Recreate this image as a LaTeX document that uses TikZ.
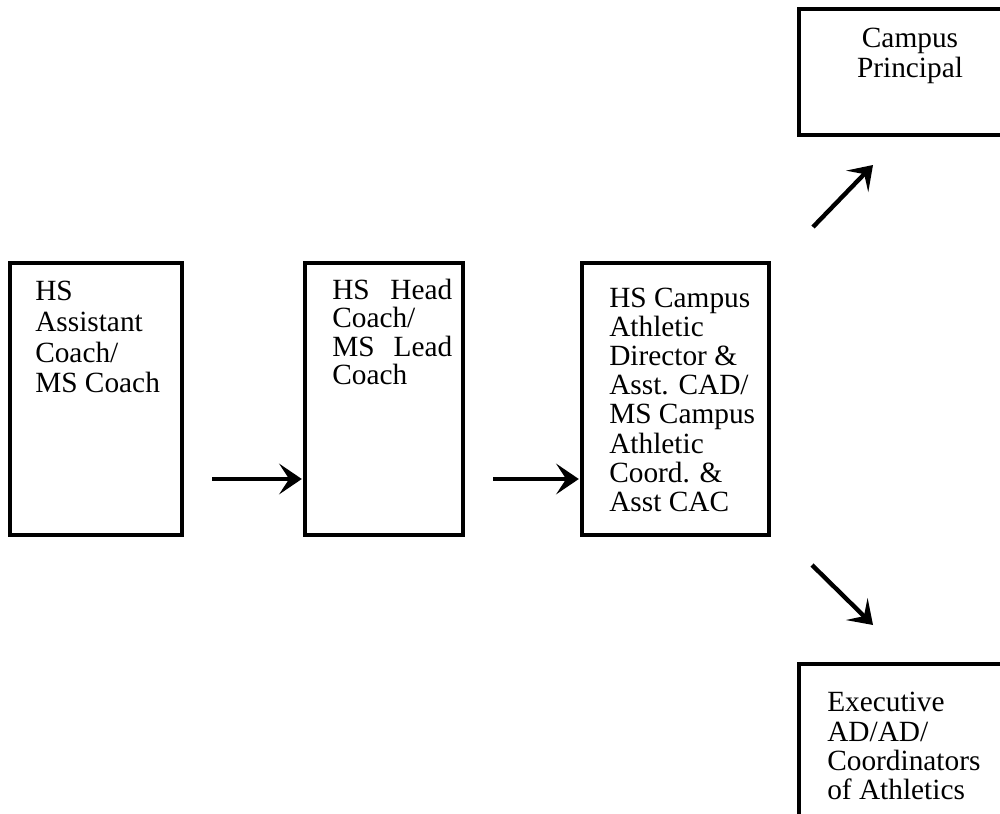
\documentclass[tikz,border=0pt]{standalone}
\usepackage{fontspec}
\setmainfont{Liberation Serif}
\usetikzlibrary{arrows.meta}
\tikzset{
  box/.style={draw=black, line width=2.4pt, rectangle, inner sep=0pt, fill=none},
  txt/.style={inner sep=0pt, align=left},
  arr/.style={line width=3.3pt, -{Stealth[length=17pt, width=23pt, inset=7.5pt]}}
}
\newcommand{\fsz}[1]{\fontsize{22}{#1}\selectfont}
\begin{document}
\begin{tikzpicture}[x=0.75pt, y=-0.75pt]
\clip (0,0) rectangle (1000,814);
\fill[white] (0,0) rectangle (1000,814);
% boxes
\node[box, minimum width=129pt, minimum height=204pt] (b1) at (96,399) {};
\node[box, minimum width=118.5pt, minimum height=204pt] (b2) at (384,399) {};
\node[box, minimum width=140.25pt, minimum height=204pt] (b3) at (675.5,399) {};
\node[box, minimum width=180.75pt, minimum height=94.5pt] (b4) at (919.5,72) {};
\node[box, minimum width=180.75pt, minimum height=147pt] (b5) at (919.5,762) {};
% texts
\node[txt, anchor=north west, font=\fsz{23}] (t1) at (35,281) {HS\\Assistant\\Coach/\\MS Coach};
\node[txt, anchor=north west, font=\fsz{21.2}] (t2) at (332,279) {\hbox to 90pt{HS\hfill Head}\\Coach/\\\hbox to 90pt{MS\hfill Lead}\\Coach};
\node[txt, anchor=north west, font=\fsz{21.8}] (t3) at (609,288) {HS Campus\\Athletic\\Director \&\\Asst. CAD/\\MS Campus\\Athletic\\Coord. \&\\Asst CAC};
\node[txt, anchor=north, align=center, font=\fsz{22.5}] (t4) at (910,28) {Campus\\Principal};
\node[txt, anchor=north west, font=\fsz{22}] (t5) at (827,692) {Executive\\AD/AD/\\Coordinators\\of Athletics};
% connectors
\coordinate (a1) at (212,479);
\coordinate (a2) at (493,479);
\coordinate (u1) at (813,227);
\coordinate (u2) at (873,165);
\coordinate (d1) at (812,565);
\coordinate (d2) at (873,625);
\draw[arr] (a1) -- ([xshift=-1.2pt]a1 -| b2.west);
\draw[arr] (a2) -- ([xshift=-1.2pt]a2 -| b3.west);
\draw[arr] (u1) -- (u2);
\draw[arr] (d1) -- (d2);
\end{tikzpicture}
\end{document}
